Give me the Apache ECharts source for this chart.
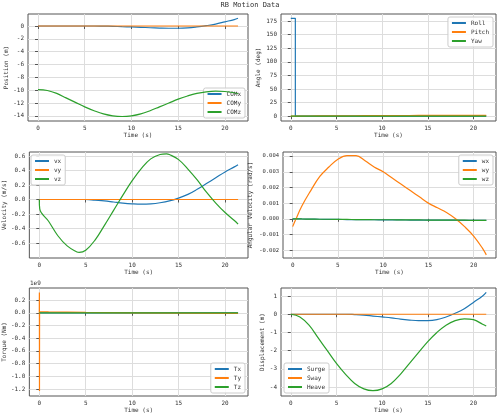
<!DOCTYPE html>
<html><head><meta charset="utf-8">
<script src="https://cdn.jsdelivr.net/npm/echarts@6/dist/echarts.min.js"></script>
<style>body{margin:0}#c{width:500px;height:416px}</style></head>
<body><div id="c"></div>
<script>
const t = [0,1,2,3,4,5,6,7,8,9,10,11,12,13,14,15,16,17,18,19,20,21,21.4];
const COMx = [0,0,0,0,0,0,0,-0.02,-0.05,-0.1,-0.15,-0.2,-0.27,-0.32,-0.35,-0.35,-0.3,-0.15,0.05,0.3,0.65,1.0,1.2];
const COMy = [0,0,0,0,0,0,0,0,0,0,0,0,0,0,0,0,0,0,0,0,0,0,0];
const COMz = [-9.9,-10.05,-10.5,-11.2,-11.9,-12.6,-13.2,-13.7,-14.0,-14.1,-14.0,-13.7,-13.2,-12.6,-12.0,-11.4,-10.9,-10.5,-10.25,-10.15,-10.2,-10.4,-10.55];
const rollT = [0,0.5,0.5,21.4];
const roll = [180,180,0,0];
const pitch = [0,0.1,0.2,0.3,0.4,0.5,0.6,0.7,0.8,0.9,1.0,1.0,1.1,1.1,1.2,1.2,1.2,1.2,1.2,1.2,1.2,1.2,1.2];
const yaw = [0,0,0,0,0,0,0,0,0,0,0,0,0,0,0,0,0,0,0,0,0,0,0];
const vx = [0,0,0,0,0,0,-0.01,-0.02,-0.035,-0.05,-0.06,-0.065,-0.06,-0.045,-0.02,0.02,0.07,0.14,0.22,0.3,0.38,0.45,0.48];
const vy = [0,0,0,0,0,0,0,0,0,0,0,0,0,0,0,0,0,0,0,0,0,0,0];
const vzT = [0,0.05,1,2,3,4,4.3,5,6,7,8,9,10,11,12,13,13.7,14,15,16,17,18,19,20,21,21.4];
const vz = [0,-0.13,-0.3,-0.5,-0.64,-0.72,-0.73,-0.7,-0.56,-0.36,-0.15,0.06,0.26,0.43,0.56,0.62,0.63,0.62,0.55,0.42,0.27,0.1,-0.05,-0.18,-0.29,-0.34];
const wT = [0,0.3,1,2,3,4,5,6,7,8,9,10,11,12,13,14,15,16,17,18,19,20,21,21.4];
const wx = [0,0,-0.00001,-0.00002,-0.00003,-0.00004,-0.00004,-0.00005,-0.00005,-0.00006,-0.00006,-0.00007,-0.00007,-0.00007,-0.00008,-0.00008,-0.00008,-0.00009,-0.00009,-0.00009,-0.0001,-0.0001,-0.0001,-0.0001];
const wy = [-0.0005,-0.0001,0.0008,0.0018,0.0027,0.0033,0.0038,0.00403,0.00403,0.0037,0.0033,0.003,0.0026,0.0022,0.0018,0.0014,0.001,0.0007,0.0004,0,-0.0005,-0.0011,-0.0019,-0.0023];
const wz = [0,0,-0.00001,-0.00002,-0.00003,-0.00003,-0.00004,-0.00004,-0.00005,-0.00005,-0.00006,-0.00006,-0.00006,-0.00007,-0.00007,-0.00007,-0.00008,-0.00008,-0.00008,-0.00009,-0.00009,-0.0001,-0.0001,-0.0001];
const TT = [0,0.01,0.02,0.03,0.1,1,5,10,15,20,21.4];
const Tx = [0,0,0,0,0,0,0,0,0,0,0];
const Ty = [0,0.32e9,-1.23e9,0.02e9,0.02e9,0.015e9,0.005e9,-0.002e9,-0.006e9,-0.01e9,-0.01e9];
const Tz = [0,0,0,0,0,0,0,0,0,0,0];
const surge = COMx.slice();
const sway = [0,0,0,0,0,0,0,0,0,0,0,0,0,0,0,0,0,0,0,0,0,0,0];
const heave = [0,-0.15,-0.6,-1.3,-2.0,-2.7,-3.3,-3.8,-4.1,-4.2,-4.1,-3.8,-3.3,-2.7,-2.1,-1.5,-1.0,-0.6,-0.35,-0.25,-0.3,-0.55,-0.65];
const xTicks = [0,5,10,15,20];

const C = ['#1f77b4','#ff7f0e','#2ca02c'];
const F = 'DejaVu Sans Mono';
const pair = (xs, ys) => xs.map((x,i)=>[x,ys[i]]);
const panels = [
 {l:28,tp:14,w:220,h:107,ymin:-14.8,ymax:1.87,yt:[-14,-12,-10,-8,-6,-4,-2,0],name:'Position (m)',gap:17,sm:true,
  s:[['COMx',pair(t,COMx)],['COMy',pair(t,COMy)],['COMz',pair(t,COMz)]],leg:'br'},
 {l:281,tp:14,w:215,h:107,ymin:-9,ymax:188,yt:[0,25,50,75,100,125,150,175],name:'Angle (deg)',gap:20,sm:false,
  s:[['Roll',pair(rollT,roll)],['Pitch',pair(t,pitch)],['Yaw',pair(t,yaw)]],leg:'tr'},
 {l:28,tp:152,w:220,h:106,ymin:-0.807,ymax:0.655,yt:[-0.6,-0.4,-0.2,0,0.2,0.4,0.6],name:'Velocity (m/s)',gap:19,sm:true,fmt:v=>v.toFixed(1),
  s:[['vx',pair(t,vx)],['vy',pair(t,vy)],['vz',pair(vzT,vz)]],leg:'tl'},
 {l:283,tp:152,w:213,h:106,ymin:-0.0025,ymax:0.00426,yt:[-0.002,-0.001,0,0.001,0.002,0.003,0.004],name:'Angular Velocity (rad/s)',gap:30,sm:true,fs:5.5,fmt:v=>v.toFixed(3),
  s:[['wx',pair(wT,wx)],['wy',pair(wT,wy)],['wz',pair(wT,wz)]],leg:'tr'},
 {l:28,tp:288,w:220,h:108,ymin:-1.31e9,ymax:0.39e9,yt:[-1.2e9,-1e9,-0.8e9,-0.6e9,-0.4e9,-0.2e9,0,0.2e9],name:'Torque (Nm)',gap:19,sm:false,fmt:v=>(v/1e9).toFixed(1),
  s:[['Tx',pair(TT,Tx)],['Ty',pair(TT,Ty)],['Tz',pair(TT,Tz)]],leg:'br'},
 {l:281,tp:288,w:215,h:108,ymin:-4.49,ymax:1.44,yt:[-4,-3,-2,-1,0,1],name:'Displacement (m)',gap:14,sm:true,
  s:[['Surge',pair(t,surge)],['Sway',pair(t,sway)],['Heave',pair(t,heave)]],leg:'bl'}
];
const grid=[],xAxis=[],yAxis=[],series=[],legend=[],graphic=[];
const txt={fontFamily:F,fontSize:6,color:'#333'};
panels.forEach((p,i)=>{
  grid.push({left:p.l,top:p.tp,width:p.w,height:p.h,show:true,borderColor:'#555',borderWidth:1});
  xAxis.push({type:'value',gridIndex:i,min:-1.07,max:22.47,name:'Time (s)',nameLocation:'middle',nameGap:11,nameTextStyle:txt,
    axisLine:{show:false},axisTick:{show:true,length:3,customValues:xTicks,lineStyle:{color:'#555'}},
    axisLabel:Object.assign({customValues:xTicks,margin:4},txt),
    splitLine:{show:true,lineStyle:{color:'#ddd',width:1}}});
  yAxis.push({type:'value',gridIndex:i,min:p.ymin,max:p.ymax,name:p.name,nameLocation:'middle',nameGap:p.gap,nameTextStyle:txt,
    axisLine:{show:false},axisTick:{show:true,length:3,customValues:p.yt,lineStyle:{color:'#555'}},
    axisLabel:Object.assign({customValues:p.yt,margin:4,formatter:p.fmt||(v=>String(Math.round(v*100)/100))},txt,p.fs?{fontSize:p.fs}:{}),
    splitLine:{show:true,lineStyle:{color:'#ddd',width:1}}});
  p.s.forEach((s,j)=>series.push({type:'line',name:s[0],xAxisIndex:i,yAxisIndex:i,data:s[1],showSymbol:false,
    smooth:p.sm?0.4:false,lineStyle:{width:1.2,color:C[j]},itemStyle:{color:C[j]},z:3+j}));
  const lg={data:p.s.map(s=>s[0]),orient:'vertical',itemWidth:14,itemHeight:2,itemGap:3,padding:[3,4],
    backgroundColor:'rgba(255,255,255,0.85)',borderColor:'#ccc',borderWidth:1,borderRadius:2,
    textStyle:{fontFamily:F,fontSize:6,color:'#333'},icon:'rect',itemStyle:{borderWidth:0}};
  const r=500-(p.l+p.w);
  if(p.leg==='br'){lg.right=r+3;lg.bottom=416-(p.tp+p.h)+3;}
  if(p.leg==='tr'){lg.right=r+3;lg.top=p.tp+3;}
  if(p.leg==='tl'){lg.left=p.l+3;lg.top=p.tp+3;}
  if(p.leg==='bl'){lg.left=p.l+3;lg.bottom=416-(p.tp+p.h)+3;}
  legend.push(lg);
});
graphic.push({type:'text',left:'center',top:2,style:{text:'RB Motion Data',font:'7px "DejaVu Sans Mono"',fill:'#333'}});
graphic.push({type:'text',left:30,top:280,style:{text:'1e9',font:'6px "DejaVu Sans Mono"',fill:'#333'}});
const chart=echarts.init(document.getElementById('c'));
chart.setOption({animation:false,backgroundColor:'#fff',grid,xAxis,yAxis,series,legend,graphic});
</script></body></html>
